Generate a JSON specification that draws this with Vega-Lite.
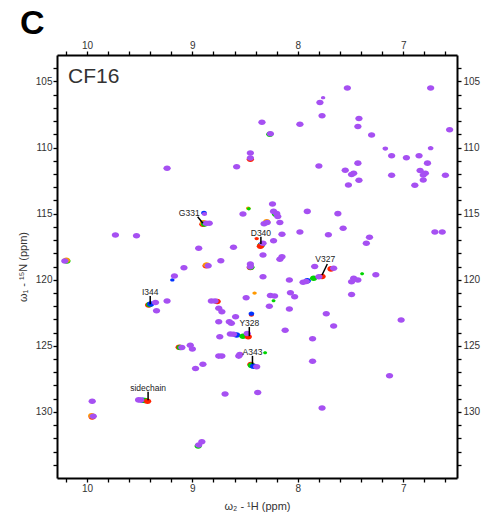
{
  "$schema": "https://vega.github.io/schema/vega-lite/v6.json",
  "width": 400,
  "height": 423,
  "autosize": {"type": "none"},
  "padding": {"left": 57, "top": 55, "right": 26, "bottom": 45},
  "title": {"text": "C", "anchor": "start", "frame": "group", "fontSize": 34, "fontWeight": "bold", "font": "Liberation Sans", "color": "#000", "dx": -37, "dy": 3, "offset": 2},
  "config": {
    "view": {"stroke": null},
    "font": "Liberation Sans",
    "axis": {"labelFont": "Liberation Sans", "labelFontSize": 10, "labelColor": "#333", "titleFont": "Liberation Sans", "titleFontSize": 11, "titleFontWeight": "normal", "titleColor": "#333", "tickColor": "#000", "tickWidth": 1.3, "tickSize": 4, "domainColor": "#000", "domainWidth": 2, "grid": false, "labelPadding": 1, "labelOverlap": false, "labelFlush": false}
  },
  "datasets": {
    "peaks": [
      {"h": 8.90, "n": 115.80, "s": "R", "i": 1}, {"h": 8.895, "n": 115.70, "s": "O", "i": 1}, {"h": 8.885, "n": 115.78, "s": "G", "i": 1},
      {"h": 8.345, "n": 117.36, "s": "B", "i": 1}, {"h": 8.35, "n": 117.42, "s": "G", "i": 1}, {"h": 8.355, "n": 117.47, "s": "R", "i": 1}, {"h": 8.39, "n": 116.89, "s": "R", "i": 0.35},
      {"h": 10.19, "n": 118.58, "s": "G", "i": 1}, {"h": 10.195, "n": 118.52, "s": "O", "i": 1},
      {"h": 8.87, "n": 118.95, "s": "R", "i": 1}, {"h": 8.865, "n": 118.88, "s": "O", "i": 1},
      {"h": 8.45, "n": 119.08, "s": "R", "i": 1}, {"h": 8.445, "n": 119.05, "s": "G", "i": 1},
      {"h": 7.685, "n": 119.18, "s": "R", "i": 1},
      {"h": 7.91, "n": 120.08, "s": "B", "i": 1}, {"h": 7.85, "n": 119.89, "s": "G", "i": 1}, {"h": 7.77, "n": 119.75, "s": "R", "i": 1},
      {"h": 9.415, "n": 121.92, "s": "R", "i": 1}, {"h": 9.405, "n": 121.88, "s": "G", "i": 1}, {"h": 9.395, "n": 121.84, "s": "B", "i": 1},
      {"h": 8.765, "n": 121.65, "s": "R", "i": 1},
      {"h": 8.58, "n": 124.19, "s": "B", "i": 1}, {"h": 8.52, "n": 124.27, "s": "G", "i": 1}, {"h": 8.47, "n": 124.32, "s": "R", "i": 1},
      {"h": 9.125, "n": 125.10, "s": "R", "i": 1}, {"h": 9.115, "n": 125.13, "s": "G", "i": 1},
      {"h": 8.445, "n": 126.42, "s": "R", "i": 1}, {"h": 8.44, "n": 126.48, "s": "G", "i": 1}, {"h": 8.42, "n": 126.55, "s": "B", "i": 1},
      {"h": 9.47, "n": 129.12, "s": "B", "i": 1}, {"h": 9.45, "n": 129.14, "s": "G", "i": 1}, {"h": 9.425, "n": 129.19, "s": "R", "i": 1},
      {"h": 9.95, "n": 130.38, "s": "R", "i": 1}, {"h": 9.955, "n": 130.30, "s": "O", "i": 1},
      {"h": 8.945, "n": 132.58, "s": "G", "i": 1},
      {"h": 8.89, "n": 114.95, "s": "B", "i": 0.6},
      {"h": 9.19, "n": 120.02, "s": "B", "i": 0.35},
      {"h": 8.41, "n": 121.01, "s": "O", "i": 0.35},
      {"h": 8.44, "n": 122.65, "s": "R", "i": 0.5}, {"h": 8.44, "n": 122.57, "s": "B", "i": 0.6},
      {"h": 8.31, "n": 125.53, "s": "G", "i": 0.3},
      {"h": 7.39, "n": 119.55, "s": "G", "i": 0.3},
      {"h": 8.23, "n": 121.59, "s": "G", "i": 0.3},
      {"h": 8.47, "n": 114.59, "s": "O", "i": 0.4}, {"h": 8.465, "n": 114.64, "s": "G", "i": 0.3},
      {"h": 8.45, "n": 110.88, "s": "R", "i": 1},
      {"h": 8.265, "n": 109.00, "s": "G", "i": 1},
      {"h": 8.295, "n": 115.62, "s": "O", "i": 1},
      {"h": 8.21, "n": 115.04, "s": "G", "i": 1},
      {"h": 7.53, "n": 105.50, "s": "P", "i": 1},
      {"h": 6.74, "n": 105.50, "s": "P", "i": 1},
      {"h": 7.76, "n": 106.23, "s": "P", "i": 0.35},
      {"h": 7.79, "n": 106.59, "s": "P", "i": 1},
      {"h": 7.77, "n": 107.60, "s": "P", "i": 1},
      {"h": 8.34, "n": 108.08, "s": "P", "i": 1},
      {"h": 7.98, "n": 108.23, "s": "P", "i": 1},
      {"h": 7.42, "n": 107.80, "s": "P", "i": 1},
      {"h": 7.43, "n": 108.41, "s": "P", "i": 1},
      {"h": 6.56, "n": 108.66, "s": "P", "i": 1},
      {"h": 8.26, "n": 108.96, "s": "P", "i": 1},
      {"h": 7.30, "n": 109.06, "s": "P", "i": 1},
      {"h": 8.45, "n": 110.42, "s": "P", "i": 1},
      {"h": 8.45, "n": 110.80, "s": "P", "i": 1},
      {"h": 9.24, "n": 111.56, "s": "P", "i": 1},
      {"h": 8.58, "n": 111.46, "s": "P", "i": 1},
      {"h": 7.17, "n": 110.08, "s": "P", "i": 0.6},
      {"h": 6.74, "n": 110.05, "s": "P", "i": 0.6},
      {"h": 7.11, "n": 110.63, "s": "P", "i": 1},
      {"h": 6.97, "n": 110.78, "s": "P", "i": 1},
      {"h": 6.85, "n": 110.63, "s": "P", "i": 1},
      {"h": 6.77, "n": 111.18, "s": "P", "i": 1},
      {"h": 7.43, "n": 111.18, "s": "P", "i": 1},
      {"h": 7.80, "n": 111.39, "s": "P", "i": 1},
      {"h": 7.55, "n": 111.71, "s": "P", "i": 1},
      {"h": 7.47, "n": 111.94, "s": "P", "i": 1},
      {"h": 7.49, "n": 112.04, "s": "P", "i": 1},
      {"h": 7.42, "n": 112.47, "s": "P", "i": 1},
      {"h": 7.52, "n": 112.83, "s": "P", "i": 1},
      {"h": 7.11, "n": 112.09, "s": "P", "i": 1},
      {"h": 6.84, "n": 111.74, "s": "P", "i": 1},
      {"h": 6.79, "n": 111.94, "s": "P", "i": 1},
      {"h": 6.81, "n": 112.07, "s": "P", "i": 1},
      {"h": 6.81, "n": 112.45, "s": "P", "i": 1},
      {"h": 6.89, "n": 112.85, "s": "P", "i": 1},
      {"h": 6.60, "n": 112.09, "s": "P", "i": 1},
      {"h": 8.885, "n": 115.03, "s": "P", "i": 0.5},
      {"h": 8.52, "n": 115.02, "s": "P", "i": 1},
      {"h": 8.87, "n": 115.73, "s": "P", "i": 1},
      {"h": 8.84, "n": 115.73, "s": "P", "i": 1},
      {"h": 8.32, "n": 115.76, "s": "P", "i": 1},
      {"h": 8.29, "n": 115.68, "s": "P", "i": 1},
      {"h": 8.24, "n": 114.27, "s": "P", "i": 1},
      {"h": 8.23, "n": 114.83, "s": "P", "i": 1},
      {"h": 8.20, "n": 115.00, "s": "P", "i": 1},
      {"h": 8.19, "n": 115.21, "s": "P", "i": 1},
      {"h": 8.17, "n": 115.68, "s": "P", "i": 1},
      {"h": 7.91, "n": 114.83, "s": "P", "i": 1},
      {"h": 7.62, "n": 115.00, "s": "P", "i": 1},
      {"h": 7.98, "n": 116.39, "s": "P", "i": 1},
      {"h": 8.15, "n": 116.56, "s": "P", "i": 1},
      {"h": 7.71, "n": 116.59, "s": "P", "i": 1},
      {"h": 7.57, "n": 116.11, "s": "P", "i": 1},
      {"h": 7.32, "n": 116.79, "s": "P", "i": 1},
      {"h": 7.35, "n": 117.24, "s": "P", "i": 1},
      {"h": 6.70, "n": 116.39, "s": "P", "i": 1},
      {"h": 6.63, "n": 116.39, "s": "P", "i": 1},
      {"h": 8.23, "n": 117.05, "s": "P", "i": 1},
      {"h": 9.73, "n": 116.61, "s": "P", "i": 1},
      {"h": 9.53, "n": 116.67, "s": "P", "i": 1},
      {"h": 8.94, "n": 117.62, "s": "P", "i": 1},
      {"h": 8.61, "n": 117.55, "s": "P", "i": 1},
      {"h": 8.33, "n": 117.24, "s": "P", "i": 1},
      {"h": 8.33, "n": 118.13, "s": "P", "i": 1},
      {"h": 8.15, "n": 118.26, "s": "P", "i": 1},
      {"h": 8.17, "n": 118.45, "s": "P", "i": 1},
      {"h": 10.21, "n": 118.58, "s": "P", "i": 1},
      {"h": 8.73, "n": 118.56, "s": "P", "i": 1},
      {"h": 9.08, "n": 119.09, "s": "P", "i": 1},
      {"h": 9.17, "n": 119.72, "s": "P", "i": 1},
      {"h": 8.85, "n": 118.94, "s": "P", "i": 1},
      {"h": 8.45, "n": 118.81, "s": "P", "i": 1},
      {"h": 8.45, "n": 119.01, "s": "P", "i": 1},
      {"h": 8.33, "n": 119.77, "s": "P", "i": 1},
      {"h": 7.84, "n": 119.00, "s": "P", "i": 1},
      {"h": 7.66, "n": 119.14, "s": "P", "i": 1},
      {"h": 7.95, "n": 120.20, "s": "P", "i": 1},
      {"h": 7.92, "n": 120.14, "s": "P", "i": 1},
      {"h": 7.80, "n": 119.77, "s": "P", "i": 1},
      {"h": 8.08, "n": 120.02, "s": "P", "i": 1},
      {"h": 7.47, "n": 119.89, "s": "P", "i": 1},
      {"h": 7.43, "n": 120.02, "s": "P", "i": 1},
      {"h": 7.49, "n": 120.15, "s": "P", "i": 1},
      {"h": 7.26, "n": 119.62, "s": "P", "i": 1},
      {"h": 8.26, "n": 121.19, "s": "P", "i": 1},
      {"h": 8.22, "n": 121.24, "s": "P", "i": 1},
      {"h": 8.49, "n": 121.36, "s": "P", "i": 1},
      {"h": 9.24, "n": 121.61, "s": "P", "i": 1},
      {"h": 9.35, "n": 121.72, "s": "P", "i": 1},
      {"h": 9.34, "n": 122.35, "s": "P", "i": 1},
      {"h": 8.82, "n": 121.61, "s": "P", "i": 1},
      {"h": 8.785, "n": 121.61, "s": "P", "i": 1},
      {"h": 8.75, "n": 122.16, "s": "P", "i": 1},
      {"h": 8.72, "n": 122.42, "s": "P", "i": 1},
      {"h": 8.59, "n": 122.80, "s": "P", "i": 1},
      {"h": 8.75, "n": 123.18, "s": "P", "i": 1},
      {"h": 8.63, "n": 123.30, "s": "P", "i": 1},
      {"h": 8.65, "n": 123.18, "s": "P", "i": 1},
      {"h": 8.27, "n": 122.00, "s": "P", "i": 1},
      {"h": 8.07, "n": 120.99, "s": "P", "i": 1},
      {"h": 8.03, "n": 121.29, "s": "P", "i": 1},
      {"h": 8.08, "n": 122.22, "s": "P", "i": 1},
      {"h": 7.49, "n": 121.11, "s": "P", "i": 1},
      {"h": 7.73, "n": 122.58, "s": "P", "i": 1},
      {"h": 7.66, "n": 123.51, "s": "P", "i": 1},
      {"h": 8.12, "n": 123.83, "s": "P", "i": 1},
      {"h": 7.02, "n": 123.05, "s": "P", "i": 1},
      {"h": 7.86, "n": 124.47, "s": "P", "i": 1},
      {"h": 8.64, "n": 124.11, "s": "P", "i": 1},
      {"h": 8.61, "n": 124.13, "s": "P", "i": 1},
      {"h": 8.48, "n": 124.07, "s": "P", "i": 1},
      {"h": 8.74, "n": 124.32, "s": "P", "i": 1},
      {"h": 9.10, "n": 125.12, "s": "P", "i": 1},
      {"h": 9.02, "n": 124.95, "s": "P", "i": 1},
      {"h": 9.00, "n": 125.25, "s": "P", "i": 1},
      {"h": 8.75, "n": 125.78, "s": "P", "i": 1},
      {"h": 8.72, "n": 125.78, "s": "P", "i": 1},
      {"h": 8.56, "n": 125.78, "s": "P", "i": 1},
      {"h": 8.55, "n": 125.65, "s": "P", "i": 1},
      {"h": 8.39, "n": 126.58, "s": "P", "i": 1},
      {"h": 8.97, "n": 126.71, "s": "P", "i": 1},
      {"h": 8.90, "n": 126.40, "s": "P", "i": 1},
      {"h": 7.86, "n": 126.16, "s": "P", "i": 1},
      {"h": 7.13, "n": 127.27, "s": "P", "i": 1},
      {"h": 8.69, "n": 128.64, "s": "P", "i": 1},
      {"h": 8.38, "n": 128.53, "s": "P", "i": 1},
      {"h": 9.51, "n": 129.09, "s": "P", "i": 1},
      {"h": 9.49, "n": 129.10, "s": "P", "i": 1},
      {"h": 9.95, "n": 129.19, "s": "P", "i": 1},
      {"h": 9.94, "n": 130.33, "s": "P", "i": 1},
      {"h": 8.94, "n": 132.50, "s": "P", "i": 1},
      {"h": 8.91, "n": 132.26, "s": "P", "i": 1},
      {"h": 7.77, "n": 129.70, "s": "P", "i": 1}
    ],
    "labs": [
      {"t": "G331", "th": 9.03, "tn": 114.95, "lh": 8.95, "ln": 115.23, "lh2": 8.90, "ln2": 115.73},
      {"t": "D340", "th": 8.35, "tn": 116.44, "lh": 8.35, "ln": 116.74, "lh2": 8.35, "ln2": 117.30},
      {"t": "V327", "th": 7.74, "tn": 118.43, "lh": 7.72, "ln": 118.81, "lh2": 7.77, "ln2": 119.64},
      {"t": "I344", "th": 9.40, "tn": 120.93, "lh": 9.40, "ln": 121.24, "lh2": 9.40, "ln2": 121.85},
      {"t": "Y328", "th": 8.46, "tn": 123.26, "lh": 8.46, "ln": 123.58, "lh2": 8.46, "ln2": 124.27},
      {"t": "A343", "th": 8.43, "tn": 125.45, "lh": 8.43, "ln": 125.76, "lh2": 8.43, "ln2": 126.39},
      {"t": "sidechain", "th": 9.42, "tn": 128.18, "lh": 9.42, "ln": 128.48, "lh2": 9.42, "ln2": 129.11}
    ],
    "panel": [{"t": "CF16", "h": 10.18, "n": 105.10}]
  },
  "layer": [
    {
      "data": {"name": "peaks"},
      "transform": [{"filter": "datum.s !== 'P'"}],
      "mark": {"type": "point", "filled": true, "opacity": 1, "shape": "M-1,0A1,0.75,0,1,1,1,0A1,0.75,0,1,1,-1,0Z"},
      "encoding": {
        "x": {"field": "h", "type": "quantitative", "scale": {"domain": [10.284, 6.49], "nice": false, "zero": false},
          "axis": {"orient": "bottom", "values": [10.2, 10, 9.8, 9.6, 9.4, 9.2, 9, 8.8, 8.6, 8.4, 8.2, 8, 7.8, 7.6, 7.4, 7.2, 7, 6.8, 6.6], "labelExpr": "abs(datum.value - round(datum.value)) < 0.01 ? '' + round(datum.value) : ''", "title": "ω₂ - ¹H  (ppm)", "titlePadding": 7}},
        "y": {"field": "n", "type": "quantitative", "scale": {"domain": [103, 135], "reverse": true, "nice": false, "zero": false},
          "axis": {"orient": "left", "values": [104, 105, 106, 107, 108, 109, 110, 111, 112, 113, 114, 115, 116, 117, 118, 119, 120, 121, 122, 123, 124, 125, 126, 127, 128, 129, 130, 131, 132, 133, 134], "labelExpr": "datum.value % 5 === 0 ? '' + datum.value : ''", "title": "ω₁ - ¹⁵N  (ppm)", "titlePadding": 7}},
        "color": {"field": "s", "type": "nominal", "scale": {"domain": ["R", "O", "G", "B", "P"], "range": ["#ff2200", "#ff9900", "#00d400", "#0033ff", "#a650f2"]}, "legend": null},
        "size": {"field": "i", "type": "quantitative", "scale": {"domain": [0, 1], "range": [0, 54]}, "legend": null}
      }
    },
    {
      "data": {"name": "peaks"},
      "transform": [{"filter": "datum.s === 'P'"}],
      "mark": {"type": "point", "filled": true, "opacity": 1, "shape": "M-1,0A1,0.75,0,1,1,1,0A1,0.75,0,1,1,-1,0Z"},
      "encoding": {
        "x": {"field": "h", "type": "quantitative", "scale": {"domain": [10.284, 6.49], "nice": false, "zero": false}, "axis": null},
        "y": {"field": "n", "type": "quantitative", "scale": {"domain": [103, 135], "reverse": true, "nice": false, "zero": false}, "axis": null},
        "color": {"field": "s", "type": "nominal", "scale": {"domain": ["R", "O", "G", "B", "P"], "range": ["#ff2200", "#ff9900", "#00d400", "#0033ff", "#a650f2"]}, "legend": null},
        "size": {"field": "i", "type": "quantitative", "scale": {"domain": [0, 1], "range": [0, 54]}, "legend": null}
      }
    },
    {
      "data": {"name": "labs"},
      "mark": {"type": "rule", "color": "#000", "strokeWidth": 1.5},
      "encoding": {
        "x": {"field": "lh", "type": "quantitative", "scale": {"domain": [10.284, 6.49], "nice": false, "zero": false},
          "axis": {"orient": "top", "values": [10.2, 10, 9.8, 9.6, 9.4, 9.2, 9, 8.8, 8.6, 8.4, 8.2, 8, 7.8, 7.6, 7.4, 7.2, 7, 6.8, 6.6], "labelExpr": "abs(datum.value - round(datum.value)) < 0.01 ? '' + round(datum.value) : ''", "title": null}},
        "y": {"field": "ln", "type": "quantitative", "scale": {"domain": [103, 135], "reverse": true, "nice": false, "zero": false},
          "axis": {"orient": "right", "values": [104, 105, 106, 107, 108, 109, 110, 111, 112, 113, 114, 115, 116, 117, 118, 119, 120, 121, 122, 123, 124, 125, 126, 127, 128, 129, 130, 131, 132, 133, 134], "labelExpr": "datum.value % 5 === 0 ? '' + datum.value : ''", "title": null, "labelPadding": 2}},
        "x2": {"field": "lh2"},
        "y2": {"field": "ln2"}
      }
    },
    {
      "data": {"name": "labs"},
      "mark": {"type": "text", "fontSize": 8.5, "color": "#222", "align": "center", "baseline": "middle", "font": "Liberation Sans"},
      "encoding": {
        "x": {"field": "th", "type": "quantitative", "scale": {"domain": [10.284, 6.49], "nice": false, "zero": false}, "axis": null},
        "y": {"field": "tn", "type": "quantitative", "scale": {"domain": [103, 135], "reverse": true, "nice": false, "zero": false}, "axis": null},
        "text": {"field": "t"}
      }
    },
    {
      "data": {"name": "panel"},
      "mark": {"type": "text", "fontSize": 21, "color": "#333", "align": "left", "baseline": "alphabetic", "font": "Liberation Sans"},
      "encoding": {
        "x": {"field": "h", "type": "quantitative", "scale": {"domain": [10.284, 6.49], "nice": false, "zero": false}, "axis": null},
        "y": {"field": "n", "type": "quantitative", "scale": {"domain": [103, 135], "reverse": true, "nice": false, "zero": false}, "axis": null},
        "text": {"field": "t"}
      }
    }
  ]
}
